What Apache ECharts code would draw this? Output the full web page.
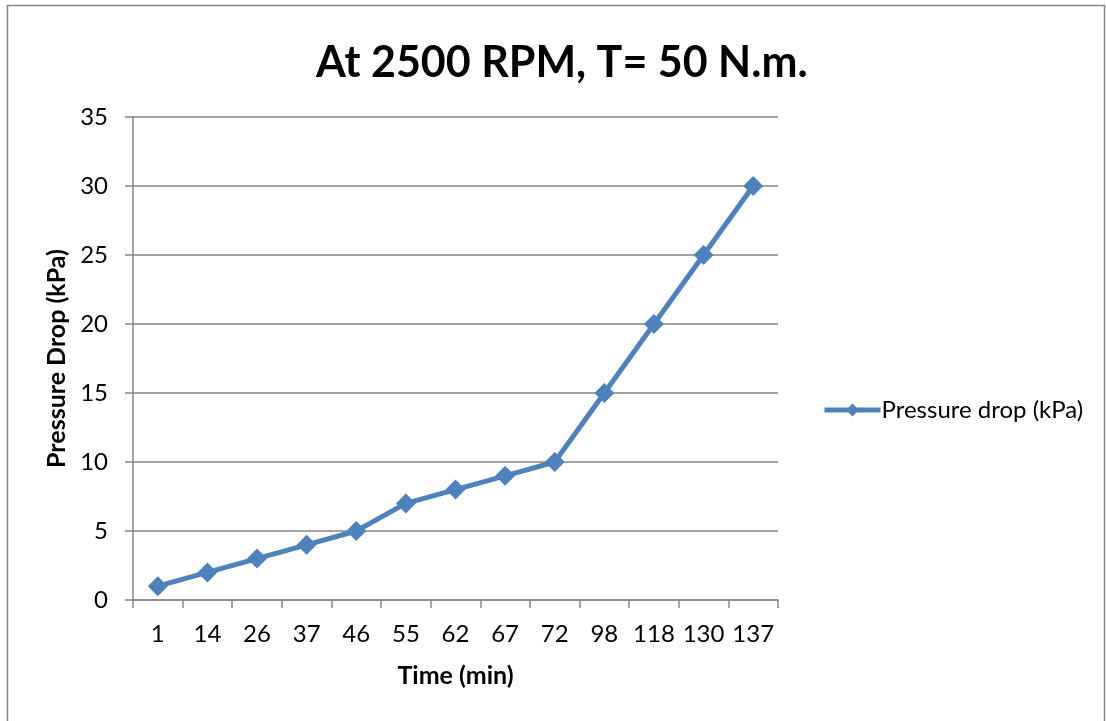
<!DOCTYPE html>
<html>
<head>
<meta charset="utf-8">
<script src="https://cdn.jsdelivr.net/npm/echarts@6/dist/echarts.min.js"></script>
<style>
  html, body { margin: 0; padding: 0; background: #fff; }
  #chart { width: 1106px; height: 721px; }
</style>
</head>
<body>
<div id="chart"></div>
<script>
// data
const times = ['1', '14', '26', '37', '46', '55', '62', '67', '72', '98', '118', '130', '137'];
const pressureDrop = [1, 2, 3, 4, 5, 7, 8, 9, 10, 15, 20, 25, 30];

const gray = '#868686';
const font = 'Lato, "Open Sans", sans-serif';

const chart = echarts.init(document.getElementById('chart'));

const option = {
  backgroundColor: '#fff',
  animation: false,
  textStyle: { fontFamily: font },
  title: {
    text: 'At 2500 RPM, T= 50 N.m.',
    left: 311,
    top: 37,
    textStyle: { fontSize: 43, fontWeight: 'bold', color: '#000', fontFamily: font }
  },
  graphic: [{
    type: 'rect',
    shape: { x: 7.5, y: 5.5, width: 1097, height: 730 },
    style: { fill: 'none', stroke: gray, lineWidth: 1.5 },
    silent: true
  }],
  legend: {
    left: 817,
    top: 393,
    itemWidth: 56,
    itemHeight: 16,
    itemGap: 0,
    lineStyle: { width: 5 },
    textStyle: { fontSize: 24, color: '#000', fontFamily: font, padding: [0, 0, 0, -4] },
    data: ['Pressure drop (kPa)']
  },
  grid: {
    left: 133,
    right: 328,
    top: 117,
    bottom: 121
  },
  xAxis: {
    type: 'category',
    data: times,
    boundaryGap: true,
    name: 'Time (min)',
    nameLocation: 'middle',
    nameGap: 63,
    nameTextStyle: { fontSize: 25, fontWeight: 'bold', color: '#000' },
    axisLine: { lineStyle: { color: gray, width: 1.5 } },
    axisTick: { show: true, length: 8, lineStyle: { color: gray, width: 1.5 } },
    axisLabel: { fontSize: 24, color: '#000', margin: 22, interval: 0 },
    splitLine: { show: false }
  },
  yAxis: {
    type: 'value',
    min: 0,
    max: 35,
    interval: 5,
    name: 'Pressure Drop (kPa)',
    nameLocation: 'middle',
    nameGap: 61,
    nameTextStyle: { fontSize: 25, fontWeight: 'bold', color: '#000' },
    axisLine: { show: true, lineStyle: { color: gray, width: 1.5 } },
    axisTick: { show: true, length: 8, lineStyle: { color: gray, width: 1.5 } },
    axisLabel: { fontSize: 24, color: '#000', margin: 25 },
    splitLine: { show: true, lineStyle: { color: gray, width: 1.5 } }
  },
  series: [{
    name: 'Pressure drop (kPa)',
    type: 'line',
    data: pressureDrop,
    symbol: 'diamond',
    symbolSize: 20,
    lineStyle: { color: '#4f81bd', width: 5 },
    itemStyle: { color: '#4f81bd' }
  }]
};

chart.setOption(option);
</script>
</body>
</html>
